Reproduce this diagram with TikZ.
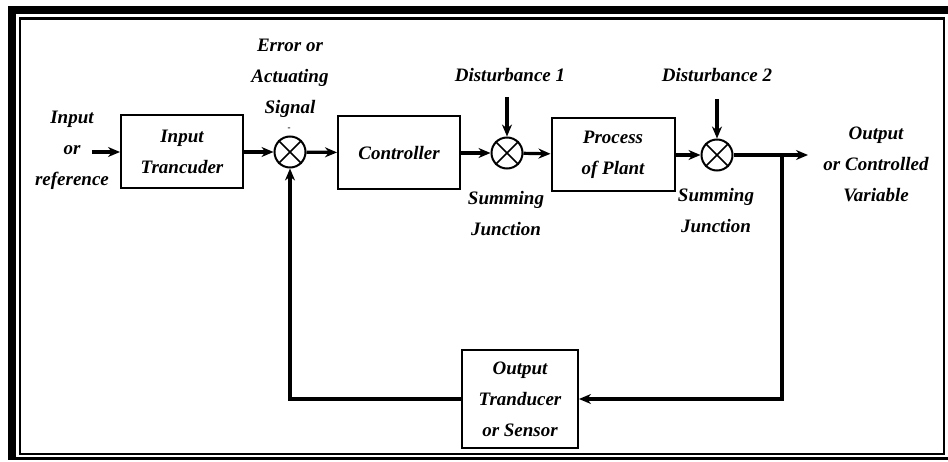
\documentclass[tikz,border=0pt]{standalone}
\usepackage{fontspec}
\setmainfont{Liberation Serif}
\usetikzlibrary{arrows.meta}

\newcommand{\labfont}{\fontsize{19}{31}\selectfont\bfseries\itshape}

\tikzset{
  block/.style={draw, line width=2pt, align=center, font=\labfont, inner sep=0pt},
  sumj/.style={draw, circle, line width=2pt, minimum size=31pt, inner sep=0pt},
  lab/.style={align=center, font=\labfont, inner sep=0pt},
  sig/.style={line width=3.2pt, -{Stealth[length=12pt, width=10pt]}},
}

\begin{document}
\begin{tikzpicture}[x=1pt, y=-1pt]
  \useasboundingbox (0,0) rectangle (948,462);
  % frame round the figure
  \fill[black] (8,6) rectangle (948,14);
  \fill[black] (8,6) rectangle (16,460);
  \fill[black] (8,457) rectangle (948,460);
  \draw[line width=2.4pt] (20,18.5) rectangle (944,454);

  % forward path
  \node[lab] (inlab) at (72,150) {Input\\or\\reference};
  \node[block, minimum width=122pt, minimum height=73pt] (intr) at (182,152) {Input\\Trancuder};
  \node[sumj] (j1) at (290,152) {};
  \node[lab] (errlab) at (290,78) {Error or\\Actuating\\Signal};
  \node[font=\small\bfseries, inner sep=0pt] (minus) at (289,129) {-};
  \node[block, minimum width=122pt, minimum height=73pt] (ctrl) at (399,153) {Controller};
  \node[sumj] (j2) at (507,153) {};
  \node[lab] (d1lab) at (510,75) {Disturbance 1};
  \node[lab] (s1lab) at (506,214) {Summing\\Junction};
  \node[block, minimum width=123pt, minimum height=73pt] (plant) at (613,155) {Process\\of Plant};
  \node[sumj] (j3) at (717,155) {};
  \node[lab] (d2lab) at (717,75) {Disturbance 2};
  \node[lab] (s2lab) at (716,211) {Summing\\Junction};
  \node[lab] (outlab) at (876,164) {Output\\or Controlled\\Variable};

  % feedback path
  \node[block, minimum width=116pt, minimum height=98pt] (sens) at (520,399) {Output\\Tranducer\\or Sensor};

  \coordinate (inp) at (92,152);
  \coordinate (d1) at (507,97);
  \coordinate (d2) at (717,99);
  \coordinate (branch) at (782,155);
  \coordinate (out) at (808,155);

  % crosses in the summing junctions
  \foreach \j in {j1, j2, j3} {
    \draw[line width=1.6pt] (\j.north west) -- (\j.south east);
    \draw[line width=1.6pt] (\j.north east) -- (\j.south west);
  }

  \draw[sig] (inp) -- (intr);
  \draw[sig] (intr) -- (j1);
  \draw[sig] (j1) -- (ctrl);
  \draw[sig] (ctrl) -- (j2);
  \draw[sig] (d1) -- (j2);
  \draw[sig] (j2) -- (plant);
  \draw[sig] (plant) -- (j3);
  \draw[sig] (d2) -- (j3);
  \draw[sig] (j3) -- (out);
  \draw[sig] (branch) |- (sens.east);
  \draw[sig] (sens.west) -| (j1.south);
\end{tikzpicture}
\end{document}
